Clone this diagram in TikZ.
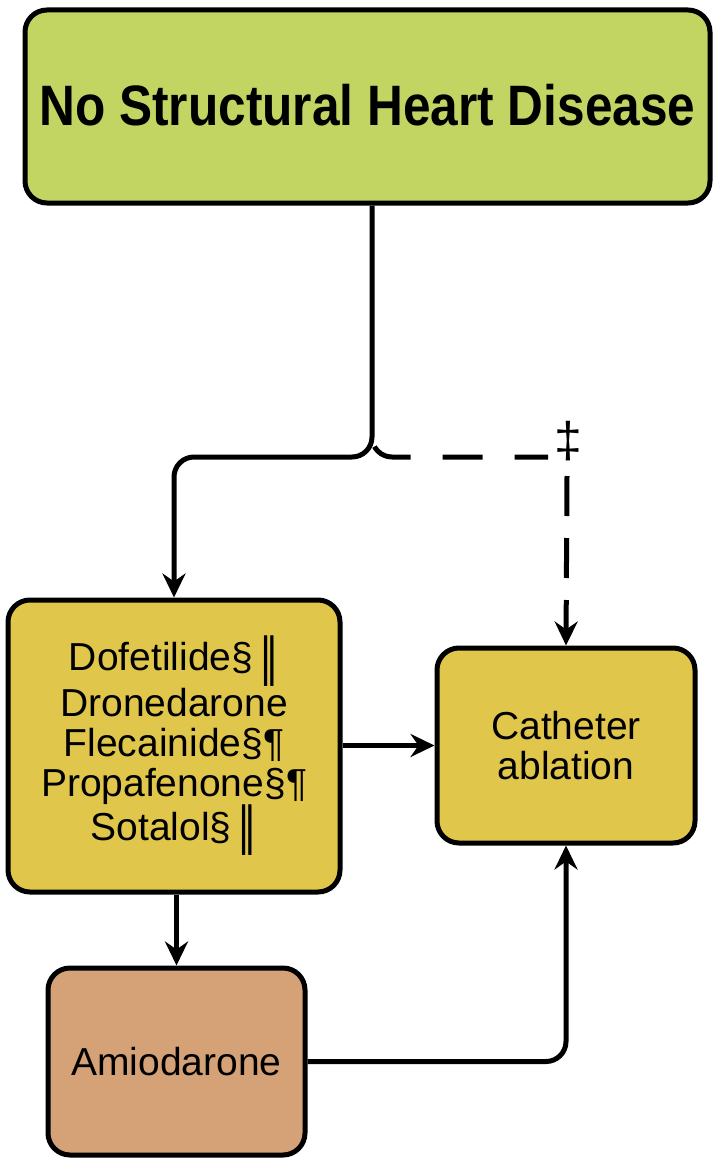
\documentclass[tikz,border=0pt]{standalone}
\usepackage{fontspec}
\setmainfont{Liberation Sans}
\newfontfamily\symfont{DejaVu Sans}
\usetikzlibrary{arrows.meta}
\definecolor{boxgreen}{HTML}{C2D563}
\definecolor{boxyellow}{HTML}{E0C64A}
\definecolor{boxtan}{HTML}{D4A276}
\newcommand{\dbar}{\raisebox{-0.1em}{\scalebox{1}[1.3]{\symfont\char"2016}}}
\begin{document}
\begin{tikzpicture}[x=1pt,y=-1pt,
  box/.style={draw=black, line width=5pt, rounded corners=22pt, align=center,
    inner sep=0pt, font=\fontsize{39}{40}\selectfont},
  link/.style={line width=5pt, rounded corners=20pt,
    -{Stealth[length=24pt,width=23pt,inset=8pt]}},
  dashlink/.style={link, dash pattern=on 40pt off 22pt}]
\useasboundingbox (0,0) rectangle (712,1161);
% boxes
\node[box, fill=boxgreen, minimum width=685pt, minimum height=193pt] (top) at (367.5,106.5)
  {\raisebox{4pt}{\scalebox{0.87}[1]{\fontsize{57}{60}\selectfont\bfseries No Structural Heart Disease}}};
\node[box, fill=boxyellow, minimum width=332pt, minimum height=292pt] (drugs) at (174,746)
  {Dofetilide§\,\dbar\\Dronedarone\\Flecainide§¶\\Propafenone§¶\\Sotalol§\,\dbar};
\node[box, fill=boxyellow, minimum width=258pt, minimum height=195pt] (abl) at (566,745.5)
  {Catheter\\ablation};
\node[box, fill=boxtan, minimum width=257pt, minimum height=187pt] (amio) at (176.5,1061.5)
  {Amiodarone};
% connectors
\coordinate (fork) at (372,457);
\coordinate (dashend) at (548,457);
\coordinate (dashstart) at (567,476);
\draw[link] (top.south -| fork) -- (fork) -| (drugs.north);
\draw[line width=5pt, rounded corners=20pt, dash pattern=on 0pt off 10pt on 40pt off 22pt]
  (fork |- 437,437) -- (fork) -- (dashend);
\node[font=\fontsize{50}{50}\selectfont] (dag) at (568,441) {‡};
\draw[dashlink] (dashstart) -- (abl.north);
\draw[link] (drugs.east |- abl.west) -- (abl.west);
\draw[link] (amio.north |- drugs.south) -- (amio.north);
\draw[link] (amio.east) -| (abl.south);
\end{tikzpicture}
\end{document}
